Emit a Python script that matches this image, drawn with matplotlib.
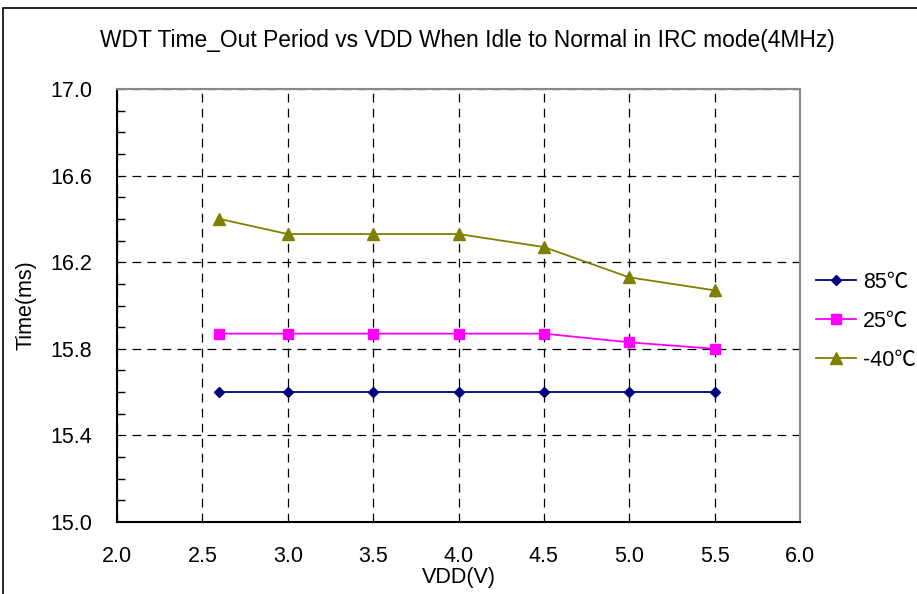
import matplotlib
matplotlib.use("Agg")
import matplotlib.pyplot as plt
from matplotlib.patches import Rectangle
from matplotlib.ticker import MultipleLocator

plt.rcParams['font.family'] = ['Liberation Sans', 'Noto Sans CJK SC', 'DejaVu Sans']

vdd = [2.6, 3.0, 3.5, 4.0, 4.5, 5.0, 5.5]
t_85 = [15.60, 15.60, 15.60, 15.60, 15.60, 15.60, 15.60]
t_25 = [15.87, 15.87, 15.87, 15.87, 15.87, 15.83, 15.80]
t_m40 = [16.40, 16.33, 16.33, 16.33, 16.27, 16.13, 16.07]
labels = ['85℃', '25℃', '-40℃']
xticks = [2.0, 2.5, 3.0, 3.5, 4.0, 4.5, 5.0, 5.5, 6.0]
yticks = [15.0, 15.4, 15.8, 16.2, 16.6, 17.0]

W, H = 917, 594
fig = plt.figure(figsize=(W/100, H/100), dpi=100)
fig.patches.append(Rectangle((3/W, -0.1), 1.2, 1 - 8/H + 0.1, transform=fig.transFigure,
                             fill=False, edgecolor='black', linewidth=1.2))
ax = fig.add_axes([117/W, 1 - 522/H, (800-117)/W, (522-89)/H])

ax.plot(vdd, t_85, color='#000080', marker='D', markersize=5.5, linewidth=1.3, label=labels[0])
ax.plot(vdd, t_25, color='#FF00FF', marker='s', markersize=6.5, linewidth=1.3, label=labels[1])
ax.plot(vdd, t_m40, color='#808000', marker='^', markersize=8, linewidth=1.3, label=labels[2])

ax.set_xlim(2.0, 6.0)
ax.set_ylim(15.0, 17.0)
ax.set_xticks(xticks)
ax.set_yticks(yticks)
ax.set_xticklabels([f'{v:.1f}' for v in xticks])
ax.set_yticklabels([f'{v:.1f}' for v in yticks])
ax.yaxis.set_minor_locator(MultipleLocator(0.1))
ax.tick_params(axis='x', which='major', length=0, labelsize=15.5, pad=17)
ax.tick_params(axis='y', which='major', length=0, labelsize=15.5, pad=18)
ax.tick_params(axis='y', which='minor', direction='in', length=6, width=1, color='black')
ax.grid(True, which='major', color='black', linestyle=(0, (7, 5)), linewidth=0.9)

for s in ['top', 'right']:
    ax.spines[s].set_color('#888888')
    ax.spines[s].set_linewidth(1.5)
for s in ['left', 'bottom']:
    ax.spines[s].set_color('black')
    ax.spines[s].set_linewidth(1.5)

ax.set_xlabel('VDD(V)', fontsize=15.5, labelpad=0)
ax.set_ylabel('Time(ms)', fontsize=15.5, labelpad=10)
fig.text(467/W, 1 - 47/H, 'WDT Time_Out Period vs VDD When Idle to Normal in IRC mode(4MHz)',
         ha='center', va='baseline', fontsize=16.4)

leg = ax.legend(loc='center left', bbox_to_anchor=(1.023, 0.464), frameon=False, fontsize=15.5,
                handlelength=1.86, handletextpad=0.35, labelspacing=0.84,
                borderaxespad=0, borderpad=0)

fig.savefig('out.png', dpi=100)
